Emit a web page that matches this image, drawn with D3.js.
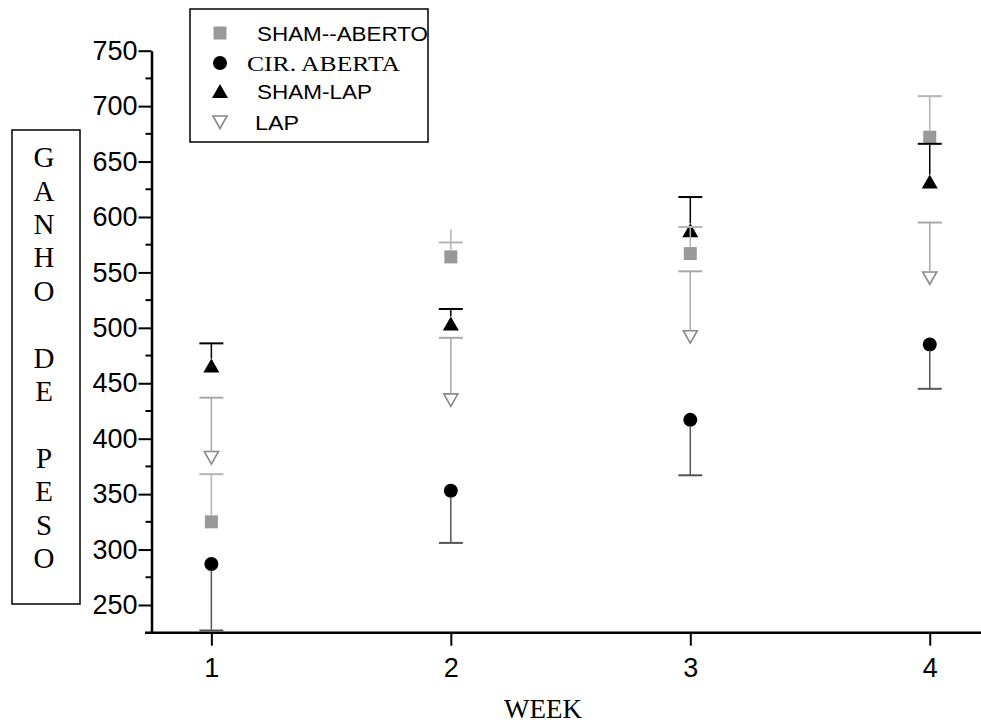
<!DOCTYPE html>
<html>
<head>
<meta charset="utf-8">
<script src="https://cdn.jsdelivr.net/npm/d3@7"></script>
<style>
  body { margin: 0; background: #fff; }
  svg { display: block; }
  .axis path, .axis line { stroke: #000; }
  .axis text { font-family: "Liberation Sans", Arial, sans-serif; font-size: 27px; fill: #000; }
</style>
</head>
<body>
<div id="chart"></div>
<script>
// weeks and group means / standard errors
const weeks = [1, 2, 3, 4];
const shamAberto = [325, 564, 567, 672];
const shamAbertoErr = [43, 13, 24, 37];
// whisker of week 2 runs a little past its cap in the original
const shamAbertoLineTop = [368, 589, 591, 709];
const cirAberta = [287, 353, 417, 485];
const cirAbertaErr = [60, 47, 50, 40];
const shamLap = [466, 504, 588, 632];
const shamLapErr = [20, 13, 30, 34];
const lap = [383, 435, 492, 545];
const lapErr = [54, 56, 59, 50];

const yTicks = [250, 300, 350, 400, 450, 500, 550, 600, 650, 700, 750];
const yMinor = [275, 325, 375, 425, 475, 525, 575, 625, 675, 725];
const yLetters = ["G", "A", "N", "H", "O", "", "D", "E", "", "P", "E", "S", "O"];

const width = 981, height = 725;

const svg = d3.select("#chart").append("svg")
  .attr("width", width)
  .attr("height", height);

const x = d3.scaleLinear().domain([0.75, 4.214]).range([151.5, 981]);
const y = d3.scaleLinear().domain([225, 750]).range([632.7, 50.7]);

// marker symbols, centred on 0,0
const shapes = {
  square: g => g.append("rect").attr("x", -6.5).attr("y", -6.5).attr("width", 13).attr("height", 13).attr("fill", "#999"),
  circle: g => g.append("circle").attr("r", 7).attr("fill", "#000"),
  up: g => g.append("path").attr("d", "M0,-7L8,7L-8,7Z").attr("fill", "#000"),
  down: g => g.append("path").attr("d", "M-7,-6L7,-6L0,6.5Z").attr("fill", "#fff").attr("stroke", "#888").attr("stroke-width", 1.6)
};

// edge: pixel offset from the centre where the whisker starts, dir: -1 up, +1 down
const series = [
  {name: "SHAM--ABERTO", values: shamAberto, err: shamAbertoErr, lineEnd: shamAbertoLineTop, shape: "square", dir: -1, edge: 6.5, errColor: "#b4b4b4", font: "sans", tl: 171},
  {name: "CIR. ABERTA", values: cirAberta, err: cirAbertaErr, shape: "circle", dir: 1, edge: 7, errColor: "#555", font: "serif", tl: 153},
  {name: "SHAM-LAP", values: shamLap, err: shamLapErr, shape: "up", dir: -1, edge: 7, errColor: "#000", font: "sans", tl: 115},
  {name: "LAP", values: lap, err: lapErr, shape: "down", dir: -1, edge: 6, errColor: "#a8a8a8", font: "sans", tl: 44}
];

// y axis with minor ticks
const yAxis = d3.axisLeft(y).tickValues(yTicks).tickSize(13).tickSizeOuter(0).tickPadding(1);
const gy = svg.append("g").attr("class", "axis")
  .attr("transform", "translate(" + x(0.75) + ",0)")
  .call(yAxis);
gy.select(".domain").attr("stroke-width", 2.5);
gy.selectAll(".tick line").attr("stroke-width", 2);
gy.selectAll(".minor").data(yMinor).enter().append("line")
  .attr("class", "minor")
  .attr("x1", -6).attr("x2", 0)
  .attr("y1", d => y(d)).attr("y2", d => y(d))
  .attr("stroke", "#000").attr("stroke-width", 2);

// x axis
const xAxis = d3.axisBottom(x).tickValues(weeks).tickSize(13).tickSizeOuter(0).tickPadding(12).tickFormat(d3.format("d"));
const gx = svg.append("g").attr("class", "axis")
  .attr("transform", "translate(0," + y(225) + ")")
  .call(xAxis);
gx.select(".domain").attr("stroke-width", 2.5).attr("d", "M145,0H981");
gx.selectAll(".tick line").attr("stroke-width", 2);

// markers
series.forEach(s => {
  weeks.forEach((w, i) => {
    const g = svg.append("g").attr("transform", "translate(" + x(w) + "," + y(s.values[i]) + ")");
    shapes[s.shape](g);
  });
});

// error bars, drawn on top of the markers
series.forEach(s => {
  weeks.forEach((w, i) => {
    const cx = x(w);
    const y0 = y(s.values[i]) + s.dir * s.edge;
    const y1 = y(s.values[i] - s.dir * s.err[i]);
    const yEnd = s.lineEnd ? y(s.lineEnd[i]) : y1;
    svg.append("line")
      .attr("x1", cx).attr("x2", cx).attr("y1", y0).attr("y2", yEnd)
      .attr("stroke", s.errColor).attr("stroke-width", 1.5);
    svg.append("line")
      .attr("x1", cx - 12).attr("x2", cx + 12).attr("y1", y1).attr("y2", y1)
      .attr("stroke", s.errColor).attr("stroke-width", 2);
  });
});

// y axis title in a box
svg.append("rect")
  .attr("x", 12).attr("y", 130).attr("width", 68).attr("height", 474)
  .attr("fill", "none").attr("stroke", "#000").attr("stroke-width", 1.5);
svg.selectAll(".ylet").data(yLetters).enter().append("text")
  .attr("class", "ylet")
  .attr("x", 44)
  .attr("y", (d, i) => 157 + i * 33.4)
  .attr("dy", "0.35em")
  .attr("text-anchor", "middle")
  .style("font-family", "'Liberation Serif', 'Times New Roman', serif")
  .style("font-size", "29px")
  .text(d => d);

// x axis title
svg.append("text")
  .attr("x", 543).attr("y", 718)
  .attr("text-anchor", "middle")
  .style("font-family", "'Liberation Serif', 'Times New Roman', serif")
  .style("font-size", "27px")
  .text("WEEK");

// legend
const legend = svg.append("g");
legend.append("rect")
  .attr("x", 190).attr("y", 9).attr("width", 238).attr("height", 133)
  .attr("fill", "#fff").attr("stroke", "#000").attr("stroke-width", 1.5);
const legY = [33, 63, 91, 122];
const legTextX = [257, 247, 257, 255];
series.forEach((s, i) => {
  const g = legend.append("g").attr("transform", "translate(220," + legY[i] + ")");
  shapes[s.shape](g);
  legend.append("text")
    .attr("x", legTextX[i]).attr("y", legY[i] + 8)
    .attr("textLength", s.tl).attr("lengthAdjust", "spacingAndGlyphs")
    .style("font-family", s.font === "serif" ? "'Liberation Serif', 'Times New Roman', serif" : "'Liberation Sans', Arial, sans-serif")
    .style("font-size", s.font === "serif" ? "21px" : "20px")
    .text(s.name);
});
</script>
</body>
</html>
